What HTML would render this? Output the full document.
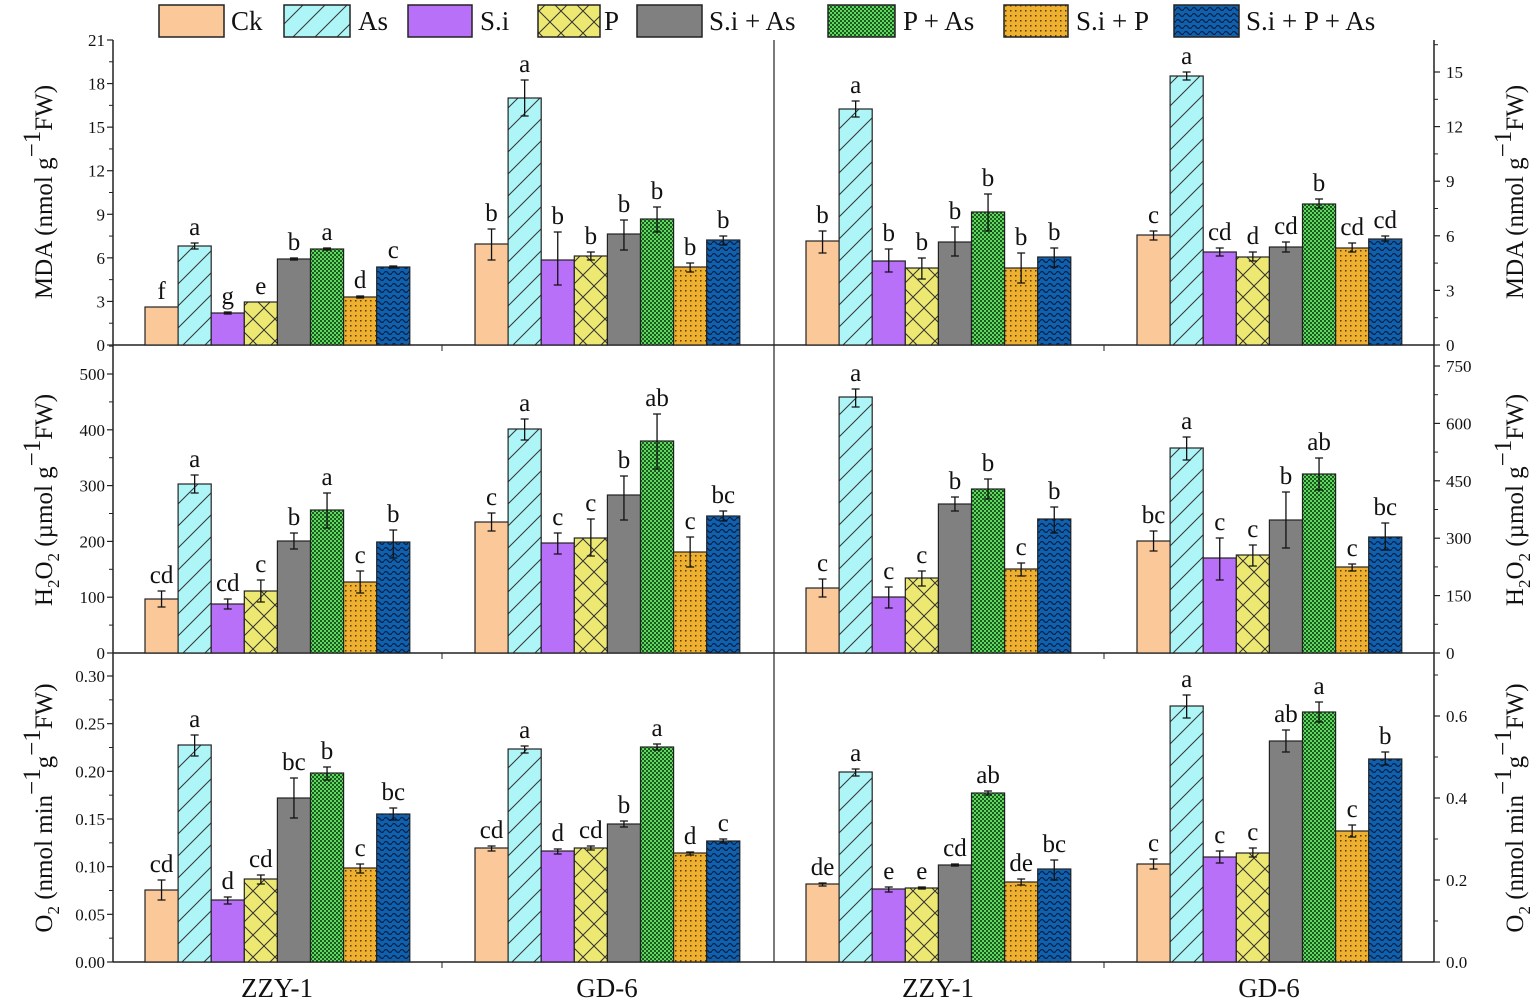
<!DOCTYPE html>
<html><head><meta charset="utf-8"><style>html,body{margin:0;padding:0;background:#fff}svg{display:block}text{font-family:"Liberation Serif",serif;fill:#111}</style></head>
<body>
<svg id="s" width="1535" height="1005" viewBox="0 0 1535 1005" xmlns="http://www.w3.org/2000/svg">
<defs>
<pattern id="pAs" width="22" height="22" patternUnits="userSpaceOnUse"><rect width="22" height="22" fill="#aef5f8"/><path d="M0 22L22 0M-5 5L5 -5M17 27L27 17" stroke="#333" stroke-width="1"/></pattern>
<pattern id="pP" width="22" height="22" patternUnits="userSpaceOnUse"><rect width="22" height="22" fill="#ece872"/><path d="M0 22L22 0M0 0L22 22" stroke="#333" stroke-width="1"/></pattern>
<pattern id="pG" width="4" height="4" patternUnits="userSpaceOnUse"><rect width="4" height="4" fill="#5fd860"/><rect width="2" height="2" fill="#1c5a20"/><rect x="2" y="2" width="2" height="2" fill="#1c5a20"/></pattern>
<pattern id="pO" width="5" height="5" patternUnits="userSpaceOnUse"><rect width="5" height="5" fill="#eeb030"/><rect width="1.5" height="1.5" fill="#5a3a00"/></pattern>
<pattern id="pB" width="8" height="6" patternUnits="userSpaceOnUse"><rect width="8" height="6" fill="#1060b0"/><path d="M0 3Q2 0 4 3T8 3" stroke="#062040" stroke-width="1.2" fill="none"/></pattern>
</defs>
<g id="g"></g>
</svg>
<script>
const g=document.getElementById('g');let h='';
const fills=['#fbc89a','url(#pAs)','#b870f8','url(#pP)','#808080','url(#pG)','url(#pO)','url(#pB)'];
const leg=[[159,224,'Ck',231],[284,350,'As',358],[408,472,'S.i',480],[538,600,'P',604],[637,702,'S.i + As',709],[828,895,'P + As',903],[1004,1068,'S.i + P',1076],[1174,1239,'S.i + P + As',1246]];
leg.forEach((l,i)=>{h+=`<rect x="${l[0]}" y="5" width="${l[1]-l[0]}" height="32" fill="${fills[i]}" stroke="#222" stroke-width="1.5"/><text x="${l[3]}" y="30" font-size="27">${l[2]}</text>`;});
const X0=113,XM=774,X1=1434;
const rows=[[40,345],[345,653],[653,962]];
h+=`<line x1="${X0}" y1="40" x2="${X0}" y2="962" stroke="#222" stroke-width="1.5"/><line x1="${X1}" y1="40" x2="${X1}" y2="962" stroke="#222" stroke-width="1.5"/><line x1="${XM}" y1="40" x2="${XM}" y2="962" stroke="#222" stroke-width="1.2"/>`;
[345,653,962].forEach(y=>h+=`<line x1="${X0}" y1="${y}" x2="${X1}" y2="${y}" stroke="#222" stroke-width="1.5"/>`);
function axis(side,y0,ytop,vals,labels){const x=side?X1:X0;const n=vals.length;
 for(let i=0;i<n;i++){const y=vals[i];h+=`<line x1="${x}" y1="${y}" x2="${side?x+6:x-6}" y2="${y}" stroke="#222" stroke-width="1.2"/>`;
  h+=`<text x="${side?x+12:x-8}" y="${y+6}" font-size="17" text-anchor="${side?'start':'end'}">${labels[i]}</text>`;
  if(i<n-1){const m=(y+vals[i+1])/2;h+=`<line x1="${x}" y1="${m}" x2="${side?x+4:x-4}" y2="${m}" stroke="#222"/>`;}
  else{const st=vals[i-1]-vals[i];const m=y-st/2;if(m>ytop)h+=`<line x1="${x}" y1="${m}" x2="${side?x+4:x-4}" y2="${m}" stroke="#222"/>`;}}}
const lin=(b,t,n)=>Array.from({length:n},(_,i)=>b-(b-t)*i/(n-1));
axis(0,345,40,lin(345,40,8),['0','3','6','9','12','15','18','21']);
axis(1,345,40,lin(345,72,6),['0','3','6','9','12','15']);
axis(0,653,345,lin(653,374,6),['0','100','200','300','400','500']);
axis(1,653,345,lin(653,366,6),['0','150','300','450','600','750']);
axis(0,962,653,lin(962,676,7),['0.00','0.05','0.10','0.15','0.20','0.25','0.30']);
axis(1,962,653,lin(962,716,4),['0.0','0.2','0.4','0.6']);
[[277,'ZZY-1'],[607,'GD-6'],[938,'ZZY-1'],[1269,'GD-6']].forEach(a=>h+=`<text x="${a[0]}" y="997" font-size="27" text-anchor="middle">${a[1]}</text>`);
[[442,962],[1104,962],[442,653],[1104,653],[442,345],[1104,345]].forEach(a=>h+=`<line x1="${a[0]}" y1="${a[1]}" x2="${a[0]}" y2="${a[1]+6}" stroke="#222"/>`);
const D=[
[[[307,307,307,'f'],[246,243,249,'a'],[313,312,314,'g'],[302,302,302,'e'],[259,258,260,'b'],[249,248,250,'a'],[297,296,298,'d'],[267,266,268,'c']],
 [[244,229,260,'b'],[98,80,116,'a'],[260,232,285,'b'],[256,252,260,'b'],[234,220,250,'b'],[219,207,232,'b'],[267,263,272,'b'],[240,236,245,'b']],
 [[241,231,253,'b'],[109,101,117,'a'],[261,249,272,'b'],[268,258,279,'b'],[242,227,256,'b'],[212,194,231,'b'],[268,253,283,'b'],[257,248,267,'b']],
 [[235,231,240,'c'],[76,72,80,'a'],[252,248,256,'cd'],[257,252,261,'d'],[247,242,252,'cd'],[204,199,208,'b'],[248,243,252,'cd'],[239,236,241,'cd']]],
[[[599,591,607,'cd'],[484,475,493,'a'],[604,599,609,'cd'],[591,580,602,'c'],[541,533,549,'b'],[510,493,528,'a'],[582,571,593,'c'],[542,530,558,'b']],
 [[522,513,531,'c'],[429,419,440,'a'],[543,533,554,'c'],[538,519,556,'c'],[495,476,520,'b'],[441,414,469,'ab'],[552,537,567,'c'],[516,511,521,'bc']],
 [[588,579,597,'c'],[397,389,407,'a'],[597,587,608,'c'],[578,571,586,'c'],[504,497,511,'b'],[489,479,499,'b'],[569,563,576,'c'],[519,507,533,'b']],
 [[541,531,551,'bc'],[448,437,460,'a'],[558,538,580,'c'],[555,545,566,'c'],[520,492,548,'b'],[474,458,490,'ab'],[567,564,571,'c'],[537,523,550,'bc']]],
[[[890,880,900,'cd'],[745,735,756,'a'],[900,897,904,'d'],[879,875,884,'cd'],[798,778,818,'bc'],[773,767,780,'b'],[868,864,873,'c'],[814,808,820,'bc']],
 [[848,846,851,'cd'],[749,746,753,'a'],[851,849,854,'d'],[848,846,850,'cd'],[824,821,827,'b'],[747,744,750,'a'],[853,852,855,'d'],[841,839,843,'c']],
 [[884,883,886,'de'],[772,769,776,'a'],[889,887,892,'e'],[888,887,889,'e'],[865,864,866,'cd'],[793,791,795,'ab'],[882,879,885,'de'],[869,860,880,'bc']],
 [[864,859,869,'c'],[706,695,718,'a'],[857,851,863,'c'],[853,848,857,'c'],[741,730,752,'ab'],[712,702,722,'a'],[831,825,837,'c'],[759,752,765,'b']]]];
const gx=[145,475,806,1137];
D.forEach((row,r)=>{const bot=rows[r][1];row.forEach((grp,gi)=>{grp.forEach((b,i)=>{const x=gx[gi]+i*33.1,w=33.1,cx=x+w/2;
 h+=`<rect x="${x}" y="${b[0]}" width="${w}" height="${bot-b[0]}" fill="${fills[i]}" stroke="#222" stroke-width="1.2"/>`;
 if(b[2]-b[1]>0){h+=`<path d="M${cx} ${b[1]}V${b[2]}M${cx-4} ${b[1]}H${cx+4}M${cx-4} ${b[2]}H${cx+4}" stroke="#111" stroke-width="1.3"/>`;}
 h+=`<text x="${cx}" y="${Math.min(b[1],b[0])-8}" font-size="25" text-anchor="middle">${b[3]}</text>`;});});});
function title(x,y,content){h+=`<text transform="translate(${x},${y}) rotate(-90)" font-size="25" text-anchor="middle">${content}</text>`;}
const sup='<tspan dy="-12" font-size="25">−1</tspan><tspan dy="12">';
title(52,192,`MDA (nmol g${sup}FW)</tspan>`);
title(1523,192,`MDA (nmol g${sup}FW)</tspan>`);
title(52,500,`H<tspan dy="7" font-size="17">2</tspan><tspan dy="-7">O</tspan><tspan dy="7" font-size="17">2</tspan><tspan dy="-7"> (µmol g</tspan>${sup}FW)</tspan>`);
title(1523,500,`H<tspan dy="7" font-size="17">2</tspan><tspan dy="-7">O</tspan><tspan dy="7" font-size="17">2</tspan><tspan dy="-7"> (µmol g</tspan>${sup}FW)</tspan>`);
title(52,808,`O<tspan dy="7" font-size="17">2</tspan><tspan dy="-7"> (nmol min</tspan>${sup}g</tspan>${sup}FW)</tspan>`);
title(1523,808,`O<tspan dy="7" font-size="17">2</tspan><tspan dy="-7"> (nmol min</tspan>${sup}g</tspan>${sup}FW)</tspan>`);
g.innerHTML=h;
</script>
</body></html>
